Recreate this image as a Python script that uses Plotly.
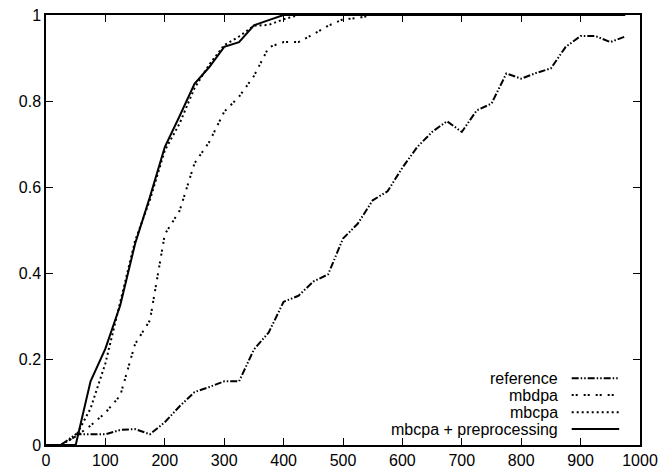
import plotly.graph_objects as go

x_vals = [0, 25, 50, 75, 100, 125, 150, 175, 200, 225, 250, 275, 300, 325, 350, 375,
          400, 425, 450, 475, 500, 525, 550, 575, 600, 625, 650, 675, 700, 725, 750,
          775, 800, 825, 850, 875, 900, 925, 950, 975]

reference = [0, 0, 0.025, 0.025, 0.025, 0.035, 0.037, 0.025, 0.053, 0.09, 0.123, 0.135,
             0.148, 0.148, 0.222, 0.262, 0.333, 0.347, 0.38, 0.397, 0.48, 0.515, 0.569,
             0.59, 0.645, 0.693, 0.728, 0.753, 0.728, 0.778, 0.794, 0.864, 0.852, 0.865,
             0.876, 0.926, 0.951, 0.951, 0.937, 0.95]

mbdpa = [0, 0, 0.02, 0.045, 0.075, 0.115, 0.235, 0.29, 0.49, 0.545, 0.655, 0.705, 0.775,
         0.81, 0.858, 0.925, 0.937, 0.937, 0.955, 0.975, 0.99, 0.993, 1, 1, 1, 1, 1, 1,
         1, 1, 1, 1, 1, 1, 1, 1, 1, 1, 1, 1]

mbcpa = [0, 0, 0.02, 0.085, 0.19, 0.335, 0.475, 0.57, 0.685, 0.748, 0.83, 0.885, 0.93,
         0.95, 0.975, 0.977, 0.99, 1, 1, 1, 1, 1, 1, 1, 1, 1, 1, 1, 1, 1, 1, 1, 1, 1, 1,
         1, 1, 1, 1, 1]

mbcpa_pre = [0, 0, 0, 0.148, 0.224, 0.325, 0.468, 0.577, 0.693, 0.765, 0.84, 0.879,
             0.926, 0.937, 0.976, 0.988, 1, 1, 1, 1, 1, 1, 1, 1, 1, 1, 1, 1, 1, 1, 1, 1,
             1, 1, 1, 1, 1, 1, 1, 1]

x_ticks = [0, 100, 200, 300, 400, 500, 600, 700, 800, 900, 1000]
y_ticks = [0, 0.2, 0.4, 0.6, 0.8, 1]
y_tick_labels = ["0", "0.2", "0.4", "0.6", "0.8", "1"]

FONT = "Liberation Sans, Arial, sans-serif"

series = [
    ("reference", reference, "7px,2px,1.5px,2px,1.5px,2px"),
    ("mbdpa", mbdpa, "2px,2px,2px,6px"),
    ("mbcpa", mbcpa, "2px,3px"),
    ("mbcpa + preprocessing", mbcpa_pre, "solid"),
]

fig = go.Figure()
for name, vals, dash in series:
    fig.add_trace(go.Scatter(x=x_vals, y=vals, mode="lines", name=name,
                             line=dict(color="black", width=2, dash=dash),
                             showlegend=False))

# custom legend (text left of sample, right-aligned, as in the reference)
leg_y = [0.155, 0.116, 0.076, 0.037]
for (name, vals, dash), ly in zip(series, leg_y):
    fig.add_annotation(x=0.866, y=ly, xref="paper", yref="paper", text=name,
                       showarrow=False, xanchor="right", yanchor="middle",
                       font=dict(family=FONT, size=16, color="black"))
    fig.add_shape(type="line", xref="paper", yref="paper", x0=0.885, x1=0.965, y0=ly, y1=ly,
                  line=dict(color="black", width=2, dash=dash))

axis_common = dict(showgrid=False, zeroline=False, showline=True, linecolor="black",
                   linewidth=1.5, mirror="ticks", ticks="inside", ticklen=7,
                   tickcolor="black", tickwidth=1, automargin=False,
                   tickfont=dict(family=FONT, size=16, color="black"))

fig.update_xaxes(range=[0, 1000], tickvals=x_ticks, **axis_common)
fig.update_yaxes(range=[0, 1], tickvals=y_ticks, ticktext=y_tick_labels, **axis_common)

fig.update_layout(width=658, height=470, margin=dict(l=46, r=18, t=15, b=25),
                  plot_bgcolor="white", paper_bgcolor="white")

fig.write_html("out.html", config={"displayModeBar": False},
               post_script="document.body.style.margin='0';document.body.style.overflow='hidden';")
